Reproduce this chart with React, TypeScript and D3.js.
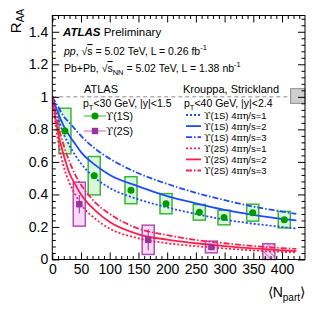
import React, { useRef, useEffect } from "react";
import { select, scaleLinear, line, curveMonotoneX, axisBottom, axisTop, axisLeft, axisRight } from "d3";

// measured points, ATLAS
const npart1S = [22, 73, 137, 198, 256, 299, 349, 404];
const raa1S = [0.79, 0.515, 0.426, 0.343, 0.29, 0.258, 0.288, 0.245];
const sys1S = [0.14, 0.118, 0.083, 0.062, 0.048, 0.045, 0.052, 0.051];
const stat1S = [0.02, 0.02, 0.016, 0.015, 0.012, 0.012, 0.012, 0.012];

const npart2S = [47, 167, 277];
const raa2S = [0.34, 0.121, 0.077];
const sys2S = [0.135, 0.09, 0.036];
const stat2S = [0.057, 0.065, 0.02];

// upper limit (hatched)
const npart2SLimit = [377];
const limit2S = [0.097];

// Krouppa, Strickland curves
const modelN = [0, 5, 10, 20, 30, 40, 50, 75, 100, 150, 200, 250, 300, 350, 400, 425];
const ups1S_eta1 = [1.0, 0.93, 0.87, 0.77, 0.7, 0.64, 0.59, 0.5, 0.44, 0.37, 0.32, 0.28, 0.245, 0.22, 0.2, 0.19];
const ups1S_eta2 = [1.0, 0.95, 0.9, 0.82, 0.76, 0.71, 0.66, 0.58, 0.52, 0.45, 0.39, 0.345, 0.305, 0.275, 0.25, 0.24];
const ups1S_eta3 = [1.0, 0.97, 0.94, 0.88, 0.84, 0.8, 0.76, 0.68, 0.62, 0.53, 0.465, 0.41, 0.365, 0.325, 0.295, 0.28];
const ups2S_eta1 = [1.0, 0.85, 0.73, 0.57, 0.47, 0.4, 0.34, 0.25, 0.19, 0.13, 0.1, 0.082, 0.068, 0.056, 0.047, 0.043];
const ups2S_eta2 = [1.0, 0.88, 0.78, 0.64, 0.53, 0.46, 0.4, 0.3, 0.23, 0.155, 0.122, 0.1, 0.082, 0.068, 0.057, 0.052];
const ups2S_eta3 = [1.0, 0.91, 0.83, 0.7, 0.6, 0.52, 0.46, 0.35, 0.28, 0.19, 0.15, 0.12, 0.1, 0.083, 0.07, 0.065];

const xTicks = [0, 50, 100, 150, 200, 250, 300, 350, 400];
const yTicks = [0, 0.2, 0.4, 0.6, 0.8, 1, 1.2, 1.4];

const BLUE = "#1f4bff";
const RED = "#ff1f4f";
const FONT = "'Liberation Sans', Arial, Helvetica, sans-serif";
const SERIF = "'DejaVu Serif', 'Liberation Serif', serif";

const models = [
  { vals: ups1S_eta1, color: BLUE, dash: "2,2", state: "1S", eta: "1" },
  { vals: ups1S_eta2, color: BLUE, dash: null, state: "1S", eta: "2" },
  { vals: ups1S_eta3, color: BLUE, dash: "6,2,1.5,2", state: "1S", eta: "3" },
  { vals: ups2S_eta1, color: RED, dash: "2,2", state: "2S", eta: "1" },
  { vals: ups2S_eta2, color: RED, dash: null, state: "2S", eta: "2" },
  { vals: ups2S_eta3, color: RED, dash: "6,2,1.5,2", state: "2S", eta: "3" },
];

const App = () => {
  const axesRef = useRef(null);

  const left = 52.3, right = 305, top = 15.5, bottom = 259.5;
  const x = scaleLinear().domain([0, 440]).range([left, right]);
  const y = scaleLinear().domain([0, 1.5]).range([bottom, top]);

  useEffect(() => {
    const g = select(axesRef.current);
    const xMinor = [];
    for (let v = 0; v <= 430; v += 10) if (v % 50 !== 0) xMinor.push(v);
    const yMinor = [];
    for (let i = 0; i <= 37; i++) if (i % 5 !== 0) yMinor.push(i * 0.04);
    const fmt = (d) => String(+(+d).toFixed(1));

    g.select(".xb").attr("transform", `translate(0,${bottom})`)
      .call(axisBottom(x).tickValues(xTicks).tickSize(-7).tickPadding(5).tickFormat(fmt));
    g.select(".xbm").attr("transform", `translate(0,${bottom})`)
      .call(axisBottom(x).tickValues(xMinor).tickSize(-3.5).tickFormat(() => ""));
    g.select(".xt").attr("transform", `translate(0,${top})`)
      .call(axisTop(x).tickValues(xTicks).tickSize(-7).tickFormat(() => ""));
    g.select(".xtm").attr("transform", `translate(0,${top})`)
      .call(axisTop(x).tickValues(xMinor).tickSize(-3.5).tickFormat(() => ""));
    g.select(".yl").attr("transform", `translate(${left},0)`)
      .call(axisLeft(y).tickValues(yTicks).tickSize(-7).tickPadding(4).tickFormat(fmt));
    g.select(".ylm").attr("transform", `translate(${left},0)`)
      .call(axisLeft(y).tickValues(yMinor).tickSize(-3.5).tickFormat(() => ""));
    g.select(".yr").attr("transform", `translate(${right},0)`)
      .call(axisRight(y).tickValues(yTicks).tickSize(-7).tickFormat(() => ""));
    g.select(".yrm").attr("transform", `translate(${right},0)`)
      .call(axisRight(y).tickValues(yMinor).tickSize(-3.5).tickFormat(() => ""));

    g.selectAll(".domain").remove();
    g.selectAll("g").attr("font-size", 14).attr("font-family", FONT);
    g.selectAll("line").attr("stroke", "#000").attr("stroke-width", 1);
  }, []);

  const mkLine = (vals) =>
    line()
      .x((d, i) => x(modelN[i]))
      .y((d) => y(d))
      .curve(curveMonotoneX)(vals);

  const hw = 10.5;

  return (
    <div style={{ position: "fixed", left: 0, top: 0 }}>
      <svg width={322} height={310} style={{ display: "block", background: "#fff" }} fontFamily={FONT}>
        <defs>
          <pattern id="hatch" width="4" height="4" patternUnits="userSpaceOnUse" patternTransform="rotate(-45)">
            <rect width="4" height="4" fill="#f6d6f6" />
            <line x1="0" y1="0" x2="0" y2="4" stroke="#a040a0" strokeWidth="1.2" />
          </pattern>
          <clipPath id="frame">
            <rect x={left} y={top} width={right - left} height={bottom - top} />
          </clipPath>
        </defs>

        {/* reference line at 1 and global uncertainty */}
        <line x1={x(0)} x2={x(440)} y1={y(1)} y2={y(1)} stroke="#8a8a8a" strokeDasharray="4,3" strokeWidth={1} />
        <rect x={x(415)} y={y(1.05)} width={x(440) - x(415)} height={y(0.96) - y(1.05)} fill="#cfcfcf" stroke="#8a8a8a" strokeWidth={1} />

        {/* systematic boxes */}
        {npart1S.map((n, i) => (
          <rect key={"b1" + i} x={x(n - hw)} y={y(raa1S[i] + sys1S[i])} width={x(n + hw) - x(n - hw)}
            height={y(raa1S[i] - sys1S[i]) - y(raa1S[i] + sys1S[i])}
            fill="#d9f7d9" stroke="#3cb43c" strokeWidth={1.5} />
        ))}
        {npart2S.map((n, i) => (
          <rect key={"b2" + i} x={x(n - hw)} y={y(raa2S[i] + sys2S[i])} width={x(n + hw) - x(n - hw)}
            height={y(raa2S[i] - sys2S[i]) - y(raa2S[i] + sys2S[i])}
            fill="#f9d9f9" stroke="#b050b0" strokeWidth={1.5} />
        ))}
        {npart2SLimit.map((n, i) => (
          <rect key={"bl" + i} x={x(n - hw)} y={y(limit2S[i])} width={x(n + hw) - x(n - hw)}
            height={y(0) - y(limit2S[i])} fill="url(#hatch)" stroke="#b050b0" strokeWidth={1.5} />
        ))}

        {/* model curves */}
        <g clipPath="url(#frame)">
          {models.map((m, i) => (
            <path key={"m" + i} d={mkLine(m.vals)} fill="none" stroke={m.color} strokeWidth={1.8}
              strokeDasharray={m.dash || undefined} />
          ))}
        </g>

        {/* stat errors and markers */}
        {npart1S.map((n, i) => (
          <g key={"p1" + i}>
            <line x1={x(n)} x2={x(n)} y1={y(raa1S[i] + stat1S[i])} y2={y(raa1S[i] - stat1S[i])} stroke="#009a00" strokeWidth={1} />
            <circle cx={x(n)} cy={y(raa1S[i])} r={3.5} fill="#009a00" />
          </g>
        ))}
        {npart2S.map((n, i) => (
          <g key={"p2" + i}>
            <line x1={x(n)} x2={x(n)} y1={y(raa2S[i] + stat2S[i])} y2={y(raa2S[i] - stat2S[i])} stroke="#993399" strokeWidth={1} />
            <rect x={x(n) - 3.2} y={y(raa2S[i]) - 3.2} width={6.4} height={6.4} fill="#993399" />
          </g>
        ))}

        {/* frame and axes */}
        <rect x={left} y={top} width={right - left} height={bottom - top} fill="none" stroke="#000" strokeWidth={1} />
        <g ref={axesRef}>
          <g className="xb" />
          <g className="xbm" />
          <g className="xt" />
          <g className="xtm" />
          <g className="yl" />
          <g className="ylm" />
          <g className="yr" />
          <g className="yrm" />
        </g>

        {/* axis titles */}
        <text transform="translate(21,9) rotate(-90)" textAnchor="end" fontSize={15}>
          R<tspan fontSize={10} dy={3}>AA</tspan>
        </text>
        <text x={305} y={297} textAnchor="end" fontSize={14}>
          <tspan fontFamily="'DejaVu Sans', sans-serif" fontWeight={200}>⟨</tspan>N<tspan fontSize={10} dy={4}>part</tspan>
          <tspan dy={-4} fontFamily="'DejaVu Sans', sans-serif" fontWeight={200}>⟩</tspan>
        </text>

        {/* labels */}
        <text x={63} y={36} fontSize={11.5}>
          <tspan fontWeight="bold" fontStyle="italic">ATLAS</tspan> Preliminary
        </text>
        <text x={64} y={55} fontSize={10.5}>
          <tspan fontStyle="italic">pp</tspan>, √<tspan textDecoration="overline">s</tspan> = 5.02 TeV, L = 0.26 fb
          <tspan fontSize={7.5} dy={-5}>-1</tspan>
        </text>
        <text x={64} y={72} fontSize={10.5}>
          Pb+Pb, √<tspan textDecoration="overline">s</tspan>
          <tspan fontSize={7.5} dy={3}>NN</tspan>
          <tspan dy={-3}> = 5.02 TeV, L = 1.38 nb</tspan>
          <tspan fontSize={7.5} dy={-5}>-1</tspan>
        </text>

        {/* ATLAS legend */}
        <text x={84} y={93} fontSize={11}>ATLAS</text>
        <text x={83} y={107} fontSize={10.5}>
          p<tspan fontSize={7.5} dy={3}>T</tspan><tspan dy={-3}>&lt;30 GeV, |y|&lt;1.5</tspan>
        </text>
        <line x1={84} x2={106} y1={116} y2={116} stroke="#7acc7a" strokeWidth={1.5} />
        <circle cx={95} cy={116} r={3.5} fill="#009a00" />
        <text x={106} y={120} fontSize={10.5}>
          <tspan fontFamily={SERIF}>ϒ</tspan>(1S)
        </text>
        <line x1={84} x2={106} y1={131} y2={131} stroke="#d49ad4" strokeWidth={1.5} />
        <rect x={91.8} y={127.8} width={6.4} height={6.4} fill="#993399" />
        <text x={106} y={135} fontSize={10.5}>
          <tspan fontFamily={SERIF}>ϒ</tspan>(2S)
        </text>

        {/* model legend */}
        <text x={183} y={93} fontSize={11}>Krouppa, Strickland</text>
        <text x={184} y={107} fontSize={10.5}>
          p<tspan fontSize={7.5} dy={3}>T</tspan><tspan dy={-3}>&lt;40 GeV, |y|&lt;2.4</tspan>
        </text>
        {models.map((m, i) => {
          const cy = 115 + i * 11.1;
          return (
            <g key={"lg" + i}>
              <line x1={186} x2={201} y1={cy} y2={cy} stroke={m.color} strokeWidth={1.8}
                strokeDasharray={m.dash || undefined} />
              <text x={204} y={cy + 3.5} fontSize={9.5}>
                <tspan fontFamily={SERIF}>ϒ</tspan>({m.state}) 4<tspan fontFamily={SERIF}>πη</tspan>/s={m.eta}
              </text>
            </g>
          );
        })}
      </svg>
    </div>
  );
};

export default App;
